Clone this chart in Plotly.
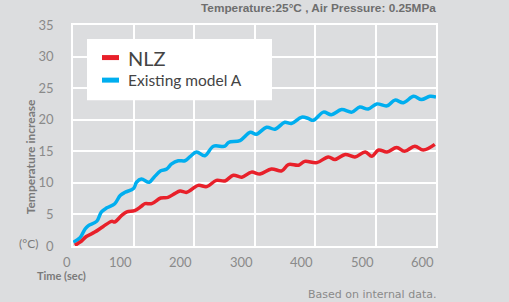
import plotly.graph_objects as go

# ---- data ----
nlz_t = [3, 11.6, 22, 36, 50, 64, 69, 80, 89, 102, 113, 119, 130, 145, 157, 168, 177, 188,
         207, 221, 237, 251, 265, 279, 295, 309, 328, 345, 356, 373, 383, 403, 422, 433,
         450, 466, 483, 494, 505, 519, 535, 548, 565, 579, 598]
nlz_v = [0.1, 0.6, 1.5, 2.2, 3.1, 3.9, 3.8, 4.8, 5.4, 5.6, 6.3, 6.7, 6.7, 7.6, 7.7, 8.3, 8.7, 8.5,
         9.6, 9.4, 10.4, 10.3, 11.2, 10.9, 11.7, 11.4, 12.2, 11.9, 12.9, 12.8, 13.4, 13.2, 14.1, 13.7,
         14.5, 14.1, 14.9, 14.2, 15.2, 14.9, 15.6, 15.0, 15.8, 15.2, 16.1]

exa_t = [0.5, 11.6, 20, 25, 39, 47, 56, 69, 78, 86, 100, 105, 113, 126, 134, 145, 155, 163, 174,
         185, 193, 204, 218, 232, 251, 257, 276, 293, 303, 320, 334, 350, 361, 378, 389, 397,
         414, 427, 444, 461, 474, 488, 502, 519, 532, 546, 563, 576, 590, 600]
exa_v = [0.6, 1.3, 2.7, 3.2, 3.9, 5.4, 6.05, 6.7, 8.0, 8.5, 9.1, 10.1, 10.6, 10.1, 10.9, 11.9, 12.2,
         13.0, 13.5, 13.5, 14.1, 14.9, 14.3, 15.8, 15.8, 16.4, 16.7, 18.0, 17.7, 18.8, 18.5, 19.6,
         19.4, 20.4, 20.2, 19.9, 21.2, 20.8, 21.6, 21.2, 22.0, 21.7, 22.5, 22.2, 23.1, 22.7, 23.7,
         23.2, 23.7, 23.6]

series_names = ["NLZ", "Existing model A"]
series_colors = ["#E8202A", "#00AEEF"]
x_ticks = [0, 100, 200, 300, 400, 500, 600]
x_tick_labels = ["0", "100", "200", "300", "400", "500", "600"]
y_ticks = [0, 5, 10, 15, 20, 25, 30, 35]

BG = "#DCDDDF"
TICK_C = "#8A8A8A"
FONT = "Lato, 'Liberation Sans', sans-serif"

fig = go.Figure()
fig.add_trace(go.Scatter(x=exa_t, y=exa_v, mode="lines", name=series_names[1],
                         line=dict(color=series_colors[1], width=3.5, shape="spline", smoothing=1),
                         showlegend=False))
fig.add_trace(go.Scatter(x=nlz_t, y=nlz_v, mode="lines", name=series_names[0],
                         line=dict(color=series_colors[0], width=3.5, shape="spline", smoothing=1),
                         showlegend=False))

fig.update_layout(
    width=509, height=302,
    paper_bgcolor=BG, plot_bgcolor=BG,
    margin=dict(l=73, r=73, t=25, b=56),
    font=dict(family=FONT, color=TICK_C, size=13),
    showlegend=False,
)
fig.update_xaxes(range=[0, 600], tickvals=x_ticks, showticklabels=False,
                 showgrid=True, gridcolor="white", gridwidth=1.5,
                 showline=True, linecolor="white", linewidth=1.5, mirror=True,
                 zeroline=False, fixedrange=True, automargin=False)
fig.update_yaxes(range=[0, 35], tickvals=y_ticks, ticks="", ticklabelstandoff=15,
                 tickfont=dict(size=13, color=TICK_C, family=FONT),
                 showgrid=True, gridcolor="white", gridwidth=1.5,
                 showline=True, linecolor="white", linewidth=1.5, mirror=True,
                 zeroline=True, zerolinecolor="#F2F2F2", zerolinewidth=2.5, fixedrange=True,
                 automargin=False)

# x tick labels right-aligned to their gridlines
for v, lab in zip(x_ticks, x_tick_labels):
    fig.add_annotation(x=v, y=0, xref="x", yref="y", text=lab, showarrow=False,
                       xanchor="right", yanchor="top", yshift=-6,
                       font=dict(size=13, color=TICK_C, family=FONT))

# legend box (manual)
fig.add_shape(type="rect", xref="paper", yref="paper", x0=14/363, x1=199/363,
              y0=(245.5-100)/220.5, y1=(245.5-39)/220.5, fillcolor="white", line=dict(width=0),
              layer="above")
legend_rows = [(57.5, 20), (80, 15.5)]
for (ypx, fs), name, col in zip(legend_rows, series_names, series_colors):
    yp = (245.5 - ypx) / 220.5
    fig.add_shape(type="line", xref="paper", yref="paper", x0=29/363, x1=46/363, y0=yp, y1=yp,
                  line=dict(color=col, width=5), layer="above")
    fig.add_annotation(xref="paper", yref="paper", x=53/363, y=yp, text=name, showarrow=False,
                       xanchor="left", yanchor="middle",
                       font=dict(size=fs, color="#444444", family=FONT))

# texts
fig.add_annotation(xref="paper", yref="paper", x=1.005, y=1.0, yshift=8,
                   text="Temperature:25°C , Air Pressure: 0.25MPa",
                   showarrow=False, xanchor="right", yanchor="bottom",
                   font=dict(size=11.8, color="#6E6E6E", family="'Liberation Sans', Arial, sans-serif", weight="bold"))
fig.add_annotation(xref="paper", yref="paper", x=-43/363, y=(245.5-157)/220.5, text="Temperature increase",
                   showarrow=False, textangle=-90, xanchor="center", yanchor="middle",
                   font=dict(size=12, color="#7A7A7A", family=FONT, weight="bold"))
fig.add_annotation(xref="paper", yref="paper", x=-45/363, y=(245.5-243)/220.5, text="(°C)",
                   showarrow=False, xanchor="center", yanchor="middle",
                   font=dict(size=12, color="#7A7A7A", family=FONT))
fig.add_annotation(xref="paper", yref="paper", x=-38/363, y=(245.5-275)/220.5, text="Time (sec)",
                   showarrow=False, xanchor="left", yanchor="middle",
                   font=dict(size=11, color="#7A7A7A", family=FONT, weight="bold"))
fig.add_annotation(xref="paper", yref="paper", x=1.005, y=(245.5-294)/220.5, text="Based on internal data.",
                   showarrow=False, xanchor="right", yanchor="middle",
                   font=dict(size=11, color="#8A8A8A", family="'DejaVu Sans', sans-serif"))

fig.write_html("out.html", config={"displayModeBar": False},
               post_script="document.body.style.margin='0';document.body.style.background='%s';" % BG)
